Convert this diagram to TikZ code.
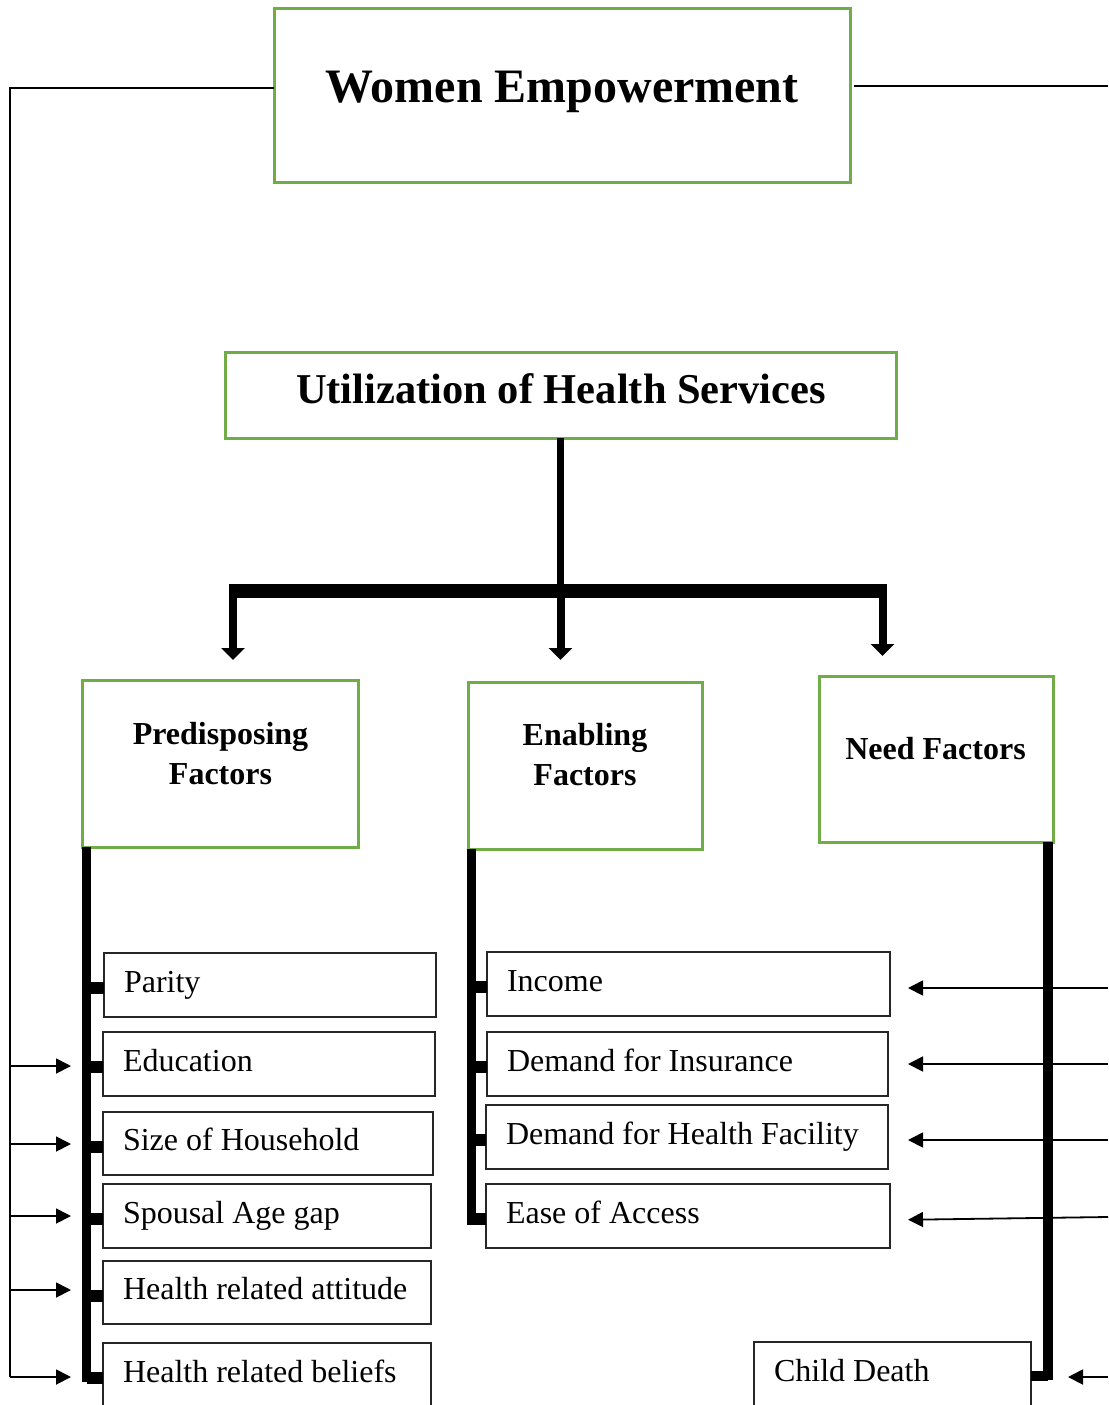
\documentclass[tikz,border=0pt]{standalone}
\usepackage{fontspec}
\setmainfont{Liberation Serif}
\usetikzlibrary{arrows.meta,calc}
\definecolor{boxgreen}{RGB}{112,173,71}
\begin{document}
\begin{tikzpicture}[x=1pt,y=-1pt,
  greenbox/.style={draw=boxgreen, line width=3pt, inner sep=0pt, outer sep=0pt},
  itembox/.style={draw=black!85, line width=1.3pt, inner xsep=20pt, inner ysep=0pt,
    outer sep=0pt, minimum height=64pt, align=flush left, text width=#1,
    text height=22pt, text depth=8pt, font=\fontsize{32}{38}\selectfont},
  bigtitle/.style={font=\fontsize{48}{58}\selectfont\bfseries},
  midtitle/.style={font=\fontsize{42.5}{52}\selectfont\bfseries},
  factortitle/.style={font=\fontsize{32}{40}\selectfont\bfseries, align=center},
  trunk/.style={line width=7pt},
  crossbar/.style={line width=14pt},
  bigarrow/.style={line width=8pt, -{Triangle[length=12pt,width=23pt]}},
  vbar/.style={line width=9pt},
  stub/.style={line width=12pt},
  thinline/.style={line width=1.6pt},
  thinarrow/.style={line width=1.8pt, -{Triangle[length=15pt,width=15pt]}}
]
\useasboundingbox (0,0) rectangle (1108,1405);
\clip (0,0) rectangle (1108,1405);

% ---- main boxes ----
\node[greenbox, minimum width=576pt, minimum height=173pt] (we) at (562,95.5) {};
\node[bigtitle, anchor=base] (wetxt) at (562,102) {Women Empowerment};

\node[greenbox, minimum width=671pt, minimum height=86pt] (util) at (560.5,395) {};
\node[midtitle, anchor=base] (utiltxt) at (561,403) {Utilization of Health Services};

\node[greenbox, minimum width=276pt, minimum height=167pt] (pred) at (220,763.5) {};
\node[factortitle] (predtxt) at (220.5,754) {Predisposing\\Factors};

\node[greenbox, minimum width=234pt, minimum height=167pt] (enab) at (585,765.5) {};
\node[factortitle] (enabtxt) at (585,755) {Enabling\\Factors};

\node[greenbox, minimum width=234pt, minimum height=166pt] (need) at (936,759) {};
\node[factortitle, anchor=base] (needtxt) at (935.5,759) {Need Factors};

% ---- predisposing items ----
\node[itembox=292pt] (parity) at (270,985) {Parity};
\node[itembox=292pt] (edu) at (269,1064) {Education};
\node[itembox=290pt, minimum height=63pt] (size) at (268,1143.5) {Size of Household};
\node[itembox=288pt] (spou) at (267,1216) {Spousal Age gap};
\node[itembox=288pt, minimum height=63pt] (att) at (267,1292.5) {Health related attitude};
\node[itembox=288pt] (bel) at (267,1375) {Health related beliefs};

% ---- enabling items ----
\node[itembox=363pt] (inc) at (688.5,984) {Income};
\node[itembox=361pt] (ins) at (687.5,1064) {Demand for Insurance};
\node[itembox=362pt] (fac) at (687,1137) {Demand for Health Facility};
\node[itembox=364pt] (ease) at (688,1216) {Ease of Access};

% ---- need item ----
\node[itembox=237pt] (cd) at (892.5,1374) {Child Death};

% ---- tree from the utilization box ----
\coordinate (hub) at (util.south |- 0,591);
\coordinate (aL) at (233,591);
\coordinate (aR) at (882.5,591);
\draw[trunk] (util.south) -- (hub);
\draw[crossbar] ([xshift=-4pt]aL) -- ([xshift=4pt]aR);
\draw[bigarrow, shorten >=20pt] (aL) -- (aL |- pred.north);
\draw[bigarrow, shorten >=22pt] (hub) -- (hub |- enab.north);
\draw[bigarrow, shorten >=20pt] (aR) -- (aR |- need.north);

% ---- vertical bars under the factor boxes ----
\coordinate (pTop) at ([xshift=4.5pt]pred.south west);
\coordinate (pBot) at (pTop |- 0,1382);
\draw[vbar] (pTop) -- (pBot);
\foreach \b in {parity,edu,size,spou,att,bel}{
  \coordinate (s) at ([yshift=-3pt]\b.west);
  \draw[stub] (pTop |- s) -- (s);
}

\coordinate (eTop) at ([xshift=3pt]enab.south west);
\coordinate (eBot) at (eTop |- 0,1225);
\draw[vbar] (eTop) -- (eBot);
\foreach \b in {inc,ins,fac,ease}{
  \coordinate (s) at ([yshift=-3pt]\b.west);
  \draw[stub] (eTop |- s) -- (s);
}

\coordinate (nTop) at ([xshift=-5pt]need.south east);
\coordinate (nBot) at (nTop |- 0,1380);
\coordinate (nStub) at ([yshift=4.5pt]nBot);
\draw[vbar, line width=10pt] (nTop) -- (nBot);
\draw[line width=10pt] (nStub) -- (cd.east |- nStub);

% ---- women empowerment links, left side ----
\coordinate (lTop) at (10,88);
\coordinate (lBot) at (10,1377);
\draw[thinline] ([yshift=7.5pt]we.west) -- (lTop) -- (lBot);
\coordinate (l2) at (10,1066);
\coordinate (l3) at (10,1144);
\coordinate (l4) at (10,1216);
\coordinate (l5) at (10,1290);
\foreach \c in {l2,l3,l4,l5,lBot}
  \draw[thinarrow, shorten >=15.5pt] (\c) -- (pTop |- \c);

% ---- women empowerment links, right side ----
\coordinate (rTop) at (1108,86);
\draw[thinline] ([shift={(4pt,9.5pt)}]we.east) -- (rTop);
\coordinate (r1) at (1108,988);
\coordinate (r2) at (1108,1064);
\coordinate (r3) at (1108,1140);
\coordinate (r4) at (1108,1217);
\coordinate (r5) at (1108,1377);
\draw[thinarrow, shorten >=18pt] (r1) -- (inc.east |- r1);
\draw[thinarrow, shorten >=20pt] (r2) -- (ins.east |- r2);
\draw[thinarrow, shorten >=20pt] (r3) -- (fac.east |- r3);
\draw[thinarrow, shorten >=18pt] (r4) -- ($(ease.east)+(0,4)$);
\draw[thinarrow, shorten >=20pt] (r5) -- (nBot |- r5);
\end{tikzpicture}
\end{document}
